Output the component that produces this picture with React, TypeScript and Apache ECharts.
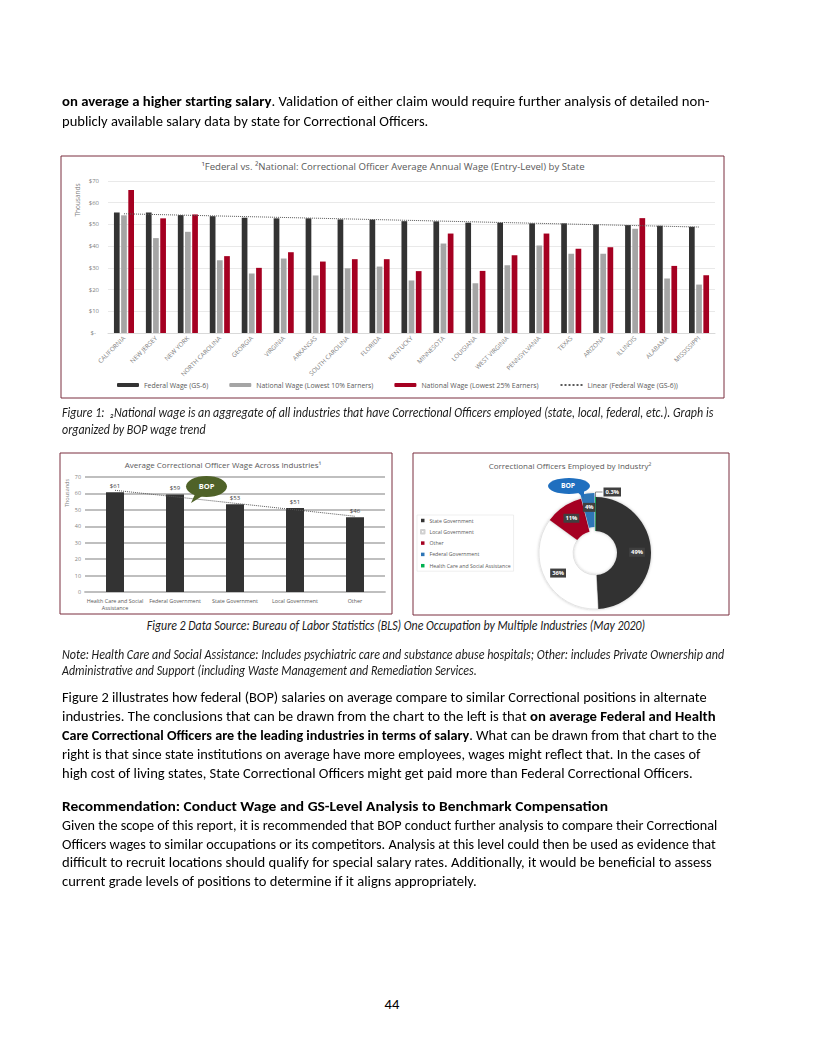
import React, { useEffect, useLayoutEffect, useRef, useState } from 'react';
import * as echarts from 'echarts';

// ---------- Data ----------
const states = ['CALIFORNIA', 'NEW JERSEY', 'NEW YORK', 'NORTH CAROLINA', 'GEORGIA', 'VIRGINIA', 'ARKANSAS', 'SOUTH CAROLINA', 'FLORIDA', 'KENTUCKY', 'MINNESOTA', 'LOUISIANA', 'WEST VIRGINIA', 'PENNSYLVANIA', 'TEXAS', 'ARIZONA', 'ILLINOIS', 'ALABAMA', 'MISSISSIPPI'];
const federalWage = [55.5, 55.5, 54.3, 53.8, 53.1, 52.8, 52.8, 52.3, 52.2, 51.5, 51.4, 50.8, 50.8, 50.5, 50.5, 50.0, 49.7, 49.4, 48.9];
const nationalLowest10 = [54.2, 43.7, 46.6, 33.5, 27.4, 34.3, 26.5, 29.8, 30.6, 24.2, 41.2, 22.9, 31.2, 40.3, 36.5, 36.5, 48.0, 25.1, 22.3];
const nationalLowest25 = [65.8, 52.8, 54.6, 35.4, 30.0, 37.2, 32.9, 34.0, 34.0, 28.5, 45.8, 28.6, 35.8, 45.8, 38.8, 39.5, 52.9, 30.9, 26.6];
const federalTrend = [54.9, null, null, null, null, null, null, null, null, null, null, null, null, null, null, null, null, null, 48.8];
const stateSeriesNames = ['Federal Wage (GS-6)', 'National Wage (Lowest 10% Earners)', 'National Wage (Lowest 25% Earners)', 'Linear (Federal Wage (GS-6))'];
const wageTicks = [0, 10, 20, 30, 40, 50, 60, 70];

const industries = ['Health Care and Social\nAssistance', 'Federal Government', 'State Government', 'Local Government', 'Other'];
const industryWage = [60.7, 59.4, 53.4, 51.1, 45.5];
const industryWageLabels = ['$61', '$59', '$53', '$51', '$46'];
const industryTrend = [61.9, null, null, null, 46.1];

const employedNames = ['State Government', 'Local Government', 'Other', 'Federal Government', 'Health Care and Social Assistance'];
const employedShare = [49, 36, 11, 4, 0.3];
const employedShareLabels = ['49%', '36%', '11%', '4%', '0.3%'];

// ---------- Styles ----------
const barColors = ['#333333', '#a5a5a5', '#a50021'];
const pieColors = ['#333333', '#ffffff', '#a50021', '#2e75b6', '#00b050'];
const FONT = '"Open Sans", "Noto Sans", sans-serif';
const BORDER = '#7b2f3e';

type LineDef = { x: number; y: number; w?: number; kind: 'body' | 'ital'; center?: boolean; content: React.ReactNode };

const LINES: LineDef[] = [
  { x: 62, y: 101, w: 648, kind: 'body', content: <><b>on average a higher starting salary</b>. Validation of either claim would require further analysis of detailed non-</> },
  { x: 62, y: 121, kind: 'body', content: 'publicly available salary data by state for Correctional Officers.' },
  { x: 62, y: 413, w: 651, kind: 'ital', content: 'Figure 1:  \u2082National wage is an aggregate of all industries that have Correctional Officers employed (state, local, federal, etc.). Graph is' },
  { x: 62, y: 430, kind: 'ital', content: 'organized by BOP wage trend' },
  { x: 396, y: 626, w: 498, kind: 'ital', center: true, content: 'Figure 2 Data Source: Bureau of Labor Statistics (BLS) One Occupation by Multiple Industries (May 2020)' },
  { x: 62, y: 655, w: 662, kind: 'ital', content: 'Note: Health Care and Social Assistance: Includes psychiatric care and substance abuse hospitals; Other: includes Private Ownership and' },
  { x: 62, y: 671, kind: 'ital', content: 'Administrative and Support (including Waste Management and Remediation Services.' },
  { x: 62, y: 697, w: 645, kind: 'body', content: 'Figure 2 illustrates how federal (BOP) salaries on average compare to similar Correctional positions in alternate' },
  { x: 62, y: 716, w: 654, kind: 'body', content: <>industries. The conclusions that can be drawn from the chart to the left is that <b>on average Federal and Health</b></> },
  { x: 62, y: 735, w: 655, kind: 'body', content: <><b>Care Correctional Officers are the leading industries in terms of salary</b>. What can be drawn from that chart to the</> },
  { x: 62, y: 754, w: 638, kind: 'body', content: 'right is that since state institutions on average have more employees, wages might reflect that. In the cases of' },
  { x: 62, y: 773, kind: 'body', content: 'high cost of living states, State Correctional Officers might get paid more than Federal Correctional Officers.' },
  { x: 62, y: 806, w: 546, kind: 'body', content: <b>Recommendation: Conduct Wage and GS-Level Analysis to Benchmark Compensation</b> },
  { x: 62, y: 825, w: 655, kind: 'body', content: 'Given the scope of this report, it is recommended that BOP conduct further analysis to compare their Correctional' },
  { x: 62, y: 844, w: 654, kind: 'body', content: 'Officers wages to similar occupations or its competitors. Analysis at this level could then be used as evidence that' },
  { x: 62, y: 862, w: 650, kind: 'body', content: 'difficult to recruit locations should qualify for special salary rates. Additionally, it would be beneficial to assess' },
  { x: 62, y: 881, kind: 'body', content: 'current grade levels of positions to determine if it aligns appropriately.' },
  { x: 392, y: 1004, kind: 'body', center: true, content: '44' },
];

const KIND_STYLE: Record<string, React.CSSProperties> = {
  body: { fontSize: 14.67, lineHeight: '18px', fontStyle: 'normal' },
  ital: { fontSize: 13.3, lineHeight: '16px', fontStyle: 'italic' },
};

function buildOption(): any {
  const stateBars = [federalWage, nationalLowest10, nationalLowest25].map((d, i) => ({
    name: stateSeriesNames[i],
    type: 'bar',
    xAxisIndex: 0,
    yAxisIndex: 0,
    data: d,
    barWidth: 5.7,
    barGap: '26%',
    itemStyle: { color: barColors[i] },
  }));

  return {
    animation: false,
    textStyle: { fontFamily: FONT },
    grid: [
      { left: 108, top: 181, width: 607, height: 152 },
      { left: 85, top: 477, width: 300, height: 115 },
    ],
    xAxis: [
      {
        type: 'category', gridIndex: 0, data: states,
        axisTick: { show: false },
        axisLine: { lineStyle: { color: '#d9d9d9', width: 1 } },
        axisLabel: { rotate: 45, interval: 0, fontSize: 6.3, color: '#7f7f7f', margin: 4 },
      },
      {
        type: 'category', gridIndex: 1, data: industries,
        axisTick: { show: false },
        axisLine: { lineStyle: { color: '#bfbfbf', width: 1.8 } },
        axisLabel: { interval: 0, fontSize: 5.4, color: '#595959', margin: 5, lineHeight: 7.5 },
      },
    ],
    yAxis: [
      {
        type: 'value', gridIndex: 0, min: wageTicks[0], max: wageTicks[wageTicks.length - 1], interval: 10,
        axisLine: { show: false }, axisTick: { show: false },
        splitLine: { lineStyle: { color: '#e3e3e3', width: 0.8 } },
        axisLabel: { fontSize: 6, color: '#7f7f7f', margin: 9, formatter: (v: number) => (v === 0 ? '$-  ' : '$' + v) },
      },
      {
        type: 'value', gridIndex: 1, min: wageTicks[0], max: wageTicks[wageTicks.length - 1], interval: 10,
        axisLine: { show: false }, axisTick: { show: false },
        splitLine: { lineStyle: { color: '#bfbfbf', width: 1.8 } },
        axisLabel: { fontSize: 5.4, color: '#7f7f7f', margin: 4, align: 'right' },
      },
    ],
    legend: [
      {
        data: stateSeriesNames,
        left: 117, top: 381.5, padding: 0,
        itemWidth: 22, itemHeight: 4, itemGap: 21,
        textStyle: { fontSize: 6.9, color: '#595959', fontFamily: FONT },
      },
      {
        data: employedNames,
        orient: 'vertical',
        left: 417, top: 515,
        padding: [2, 3, 2, 3],
        itemWidth: 3.5, itemHeight: 3.5, itemGap: 4.3,
        icon: 'rect',
        borderColor: '#e4e4e4', borderWidth: 0.6,
        textStyle: { fontSize: 5.2, color: '#595959', fontFamily: FONT, lineHeight: 7 },
      },
    ],
    series: [
      ...stateBars,
      {
        name: stateSeriesNames[3], type: 'line', xAxisIndex: 0, yAxisIndex: 0,
        data: federalTrend, connectNulls: true, symbol: 'none', z: 5,
        lineStyle: { type: 'dotted', color: '#595959', width: 1 },
        itemStyle: { color: 'rgba(0,0,0,0)' },
      },
      {
        name: 'Average Wage', type: 'bar', xAxisIndex: 1, yAxisIndex: 1,
        data: industryWage, barWidth: 18,
        itemStyle: { color: '#333333' },
        label: {
          show: true, position: 'top', distance: 3, fontSize: 6, color: '#404040',
          formatter: (p: any) => industryWageLabels[p.dataIndex],
        },
      },
      {
        name: 'Linear (Average Wage)', type: 'line', xAxisIndex: 1, yAxisIndex: 1,
        data: industryTrend, connectNulls: true, symbol: 'none', z: 5,
        lineStyle: { type: 'dotted', color: '#595959', width: 1 },
      },
      {
        name: 'Correctional Officers Employed', type: 'pie',
        center: [595, 553], radius: [22, 56], startAngle: 89, clockwise: true,
        selectedMode: 'single', selectedOffset: 4, avoidLabelOverlap: false,
        itemStyle: { shadowBlur: 3, shadowColor: 'rgba(0,0,0,0.25)' },
        label: {
          show: true, position: 'inside', color: '#ffffff', fontSize: 5.8, fontWeight: 'bold',
          backgroundColor: '#404040', padding: [1.5, 2], fontFamily: FONT,
          formatter: (p: any) => employedShareLabels[p.dataIndex],
        },
        labelLine: { show: false },
        data: employedNames.map((n, i) => {
          const item: any = {
            name: n, value: employedShare[i],
            itemStyle: { color: pieColors[i] },
          };
          if (i === 1) item.itemStyle = { color: pieColors[i], borderColor: '#d0d0d0', borderWidth: 0.5 };
          if (i === 3) item.selected = true;
          if (i === 4) {
            item.label = { position: 'outside', distanceToLabelLine: 1 };
            item.labelLine = { show: true, length: 5, length2: 7, lineStyle: { color: '#404040', width: 0.6 } };
          }
          return item;
        }),
      },
    ],
    graphic: [
      // chart borders
      { type: 'rect', shape: { x: 61, y: 156, width: 663, height: 242 }, style: { fill: 'none', stroke: BORDER, lineWidth: 1 }, z: 1 },
      { type: 'rect', shape: { x: 60, y: 453, width: 332, height: 161 }, style: { fill: 'none', stroke: BORDER, lineWidth: 1 }, z: 1 },
      { type: 'rect', shape: { x: 413, y: 453, width: 316, height: 162 }, style: { fill: 'none', stroke: BORDER, lineWidth: 1 }, z: 1 },
      // titles
      { type: 'text', x: 393, y: 166.5, style: { text: '\u00b9Federal vs. \u00b2National: Correctional Officer Average Annual Wage (Entry-Level) by State', fill: '#595959', font: `9.6px ${FONT}`, textAlign: 'center', textVerticalAlign: 'middle' } },
      { type: 'text', x: 223, y: 464, style: { text: 'Average Correctional Officer Wage Across Industries\u00b9', fill: '#595959', font: `8px ${FONT}`, textAlign: 'center', textVerticalAlign: 'middle' } },
      { type: 'text', x: 570, y: 465, style: { text: 'Correctional Officers Employed by Industry\u00b2', fill: '#595959', font: `8px ${FONT}`, textAlign: 'center', textVerticalAlign: 'middle' } },
      // axis unit labels
      { type: 'text', x: 77.5, y: 200, rotation: Math.PI / 2, style: { text: 'Thousands', fill: '#7f7f7f', font: `6.5px ${FONT}`, textAlign: 'center', textVerticalAlign: 'middle' } },
      { type: 'text', x: 67, y: 493, rotation: Math.PI / 2, style: { text: 'Thousands', fill: '#7f7f7f', font: `5.5px ${FONT}`, textAlign: 'center', textVerticalAlign: 'middle' } },
      // green BOP bubble
      { type: 'polygon', shape: { points: [[196, 492], [204, 495], [191, 503]] }, style: { fill: '#4f6228' }, z: 10 },
      { type: 'ellipse', shape: { cx: 206.5, cy: 486.5, rx: 20.5, ry: 10.5 }, style: { fill: '#4f6228' }, z: 10 },
      { type: 'text', x: 206.5, y: 485.5, z: 11, style: { text: 'BOP', fill: '#ffffff', font: `bold 7.5px ${FONT}`, textAlign: 'center', textVerticalAlign: 'middle' } },
      // blue BOP bubble
      { type: 'polygon', shape: { points: [[576, 491], [584, 489], [584, 498]] }, style: { fill: '#1f6fbf' }, z: 10 },
      { type: 'ellipse', shape: { cx: 569, cy: 486, rx: 21, ry: 8 }, style: { fill: '#1f6fbf' }, z: 10 },
      { type: 'text', x: 568, y: 485, z: 11, style: { text: 'BOP', fill: '#ffffff', font: `bold 6.8px ${FONT}`, textAlign: 'center', textVerticalAlign: 'middle' } },
    ],
  };
}

export default function App() {
  const chartRef = useRef<HTMLDivElement>(null);
  const lineRefs = useRef<(HTMLSpanElement | null)[]>([]);
  const [scales, setScales] = useState<number[]>(() => LINES.map(() => 1));

  useLayoutEffect(() => {
    const measure = () => {
      const nat = LINES.map((_, i) => lineRefs.current[i]?.offsetWidth || 1);
      const kindScale: Record<string, number> = {};
      ['body', 'ital'].forEach((k) => {
        const r = LINES.map((l, i) => (l.kind === k && l.w ? l.w / nat[i] : 0)).filter((v) => v > 0);
        kindScale[k] = r.length ? r.reduce((a, b) => a + b, 0) / r.length : 1;
      });
      setScales(LINES.map((l, i) => (l.w ? l.w / nat[i] : kindScale[l.kind])));
    };
    measure();
    if ((document as any).fonts?.ready) (document as any).fonts.ready.then(measure);
  }, []);

  useEffect(() => {
    if (!chartRef.current) return;
    const chart = echarts.init(chartRef.current, null, { renderer: 'svg' });
    chart.setOption(buildOption());
    return () => chart.dispose();
  }, []);

  return (
    <div style={{ position: 'absolute', left: 0, top: 0, width: 817, height: 1057, background: '#ffffff', overflow: 'hidden' }}>
      <div ref={chartRef} style={{ position: 'absolute', left: 0, top: 0, width: 817, height: 1057 }} />
      {LINES.map((l, i) => {
        const ks = KIND_STYLE[l.kind];
        const lh = parseFloat(String(ks.lineHeight));
        const s = scales[i];
        return (
          <span
            key={i}
            ref={(el) => { lineRefs.current[i] = el; }}
            style={{
              position: 'absolute',
              left: l.x,
              top: l.y - lh / 2,
              whiteSpace: 'pre',
              fontFamily: 'Carlito, Calibri, Lato, sans-serif',
              color: l.kind === 'ital' ? '#1a1a1a' : '#000000',
              ...ks,
              transformOrigin: l.center ? 'center' : 'left',
              transform: l.center ? `translateX(-50%) scaleX(${s})` : `scaleX(${s})`,
              zIndex: 2,
            }}
          >
            {l.content}
          </span>
        );
      })}
    </div>
  );
}
